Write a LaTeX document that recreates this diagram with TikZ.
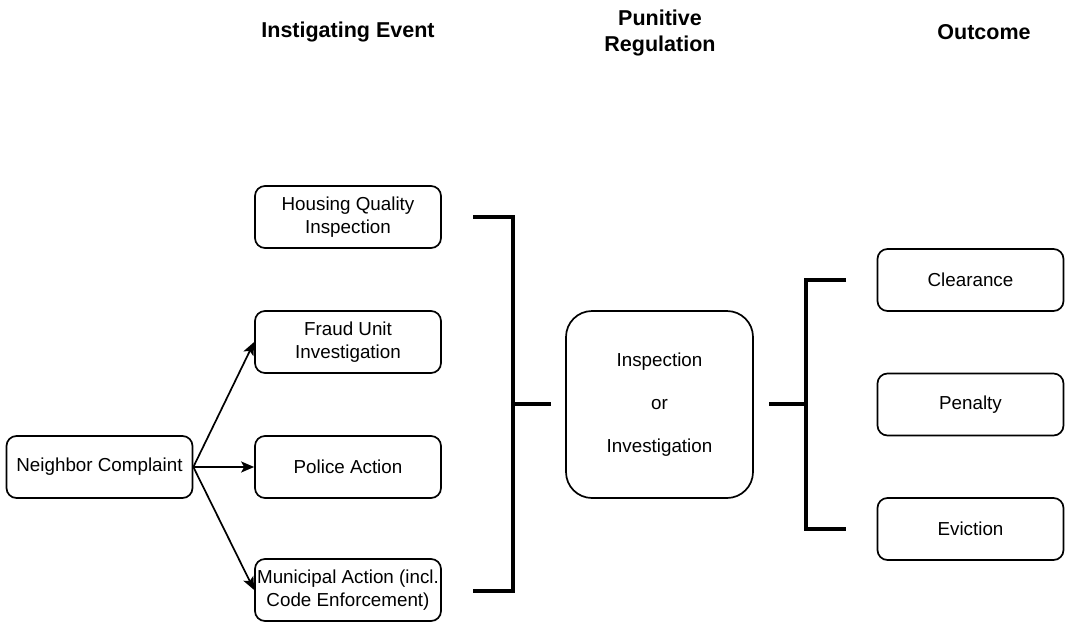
\documentclass[tikz,border=0pt]{standalone}
\usepackage{fontspec}
\setmainfont{Liberation Sans}
\usetikzlibrary{arrows.meta}
\begin{document}
\begin{tikzpicture}[x=1pt,y=-1pt,
  box/.style={draw, rounded corners=10pt, line width=1.7pt, minimum width=186pt, minimum height=62pt, inner sep=0pt, align=center, font=\fontsize{18.8}{22.5}\selectfont},
  bigbox/.style={box, rounded corners=26pt, minimum width=187pt, minimum height=187pt, font=\fontsize{18.8}{43}\selectfont},
  head/.style={align=center, font=\bfseries\fontsize{21.5}{26}\selectfont},
  arr/.style={-{Stealth[length=13pt,width=11pt,inset=3pt]}, line width=1.7pt},
  brk/.style={line width=3.6pt, line join=miter}]
\useasboundingbox (0,0) rectangle (1066,622);
% headers
\node[head] (h1) at (348,32) {Instigating Event};
\node[head] (h2) at (660,33) {Punitive\\Regulation};
\node[head] (h3) at (984,32) {Outcome};
% boxes
\node[box] (nc) at (99.5,467) {Neighbor Complaint};
\node[box] (hq) at (348,217) {Housing Quality\\Inspection};
\node[box] (fu) at (348,342) {Fraud Unit\\Investigation};
\node[box] (pa) at (348,467) {Police Action};
\node[box] (ma) at (348,590) {Municipal Action (incl.\\Code Enforcement)};
\node[bigbox] (ii) at (659.5,404.5) {Inspection\\or\\Investigation};
\node[box] (cl) at (970.5,280) {Clearance};
\node[box] (pe) at (970.5,404.5) {Penalty};
\node[box] (ev) at (970.5,529) {Eviction};
% arrows
\draw[arr] (nc.east) -- (fu.west);
\draw[arr] (nc.east) -- (pa.west);
\draw[arr] (nc.east) -- (ma.west);
% left bracket
\coordinate (lbt) at (473,217);
\coordinate (lbb) at (473,591);
\coordinate (lbm) at (513,404);
\coordinate (lbs) at (551,404);
\draw[brk] (lbt) -- (lbt -| lbm) -- (lbb -| lbm) -- (lbb);
\draw[brk] (lbm) -- (lbs);
% right bracket
\coordinate (rbs) at (769,404);
\coordinate (rbm) at (806,404);
\coordinate (rbt) at (846,280);
\coordinate (rbb) at (846,529);
\draw[brk] (rbs) -- (rbm);
\draw[brk] (rbt) -- (rbt -| rbm) -- (rbb -| rbm) -- (rbb);
\end{tikzpicture}
\end{document}
